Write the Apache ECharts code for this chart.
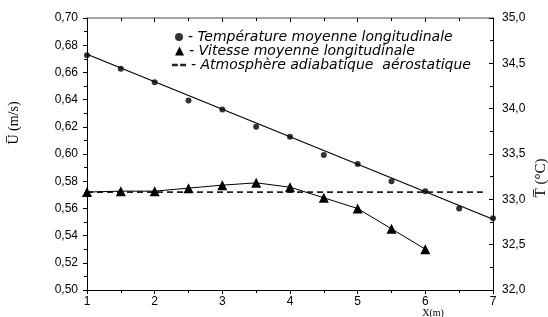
<!DOCTYPE html>
<html>
<head>
<meta charset="utf-8">
<script src="https://cdn.jsdelivr.net/npm/echarts@6/dist/echarts.min.js"></script>
<style>
html, body { margin: 0; padding: 0; background: #fff; }
#chart { width: 548px; height: 317px; }
</style>
</head>
<body>
<div id="chart"></div>
<script>
// positions le long du tunnel X (m)
var xPos = [1, 1.5, 2, 2.5, 3, 3.5, 4, 4.5, 5, 5.5, 6, 6.5, 7];
// temperature moyenne (axe droit, °C)
var tempVals = [34.59, 34.44, 34.29, 34.09, 33.99, 33.80, 33.69, 33.49, 33.39, 33.20, 33.09, 32.90, 32.79];
// droite de regression temperature
var tempFitX = [1, 7];
var tempFitY = [34.60, 32.78];
// vitesse moyenne (axe gauche, m/s)
var vitX = [1, 1.5, 2, 2.5, 3, 3.5, 4, 4.5, 5, 5.5, 6];
var vitVals = [0.572, 0.5727, 0.5727, 0.5749, 0.5771, 0.5788, 0.5756, 0.5678, 0.5599, 0.545, 0.530];
// atmosphere adiabatique
var adiaX = [1, 6.85];
var adiaY = [0.572, 0.572];

var legendNames = ['Température moyenne longitudinale', 'Vitesse moyenne longitudinale', 'Atmosphère adiabatique  aérostatique'];

function pairs(xs, ys) {
    var out = [];
    for (var i = 0; i < xs.length; i++) {
        out.push([xs[i], ys[i]]);
    }
    return out;
}

function virgule(v, d) {
    return v.toFixed(d).replace('.', ',');
}

var chart = echarts.init(document.getElementById('chart'));

var legendText = {
    fontFamily: 'DejaVu Sans',
    fontStyle: 'italic',
    fontSize: 14,
    color: '#000'
};

chart.setOption({
    animation: false,
    grid: {
        left: 87,
        right: 55,
        top: 18,
        bottom: 27
    },
    legend: [
        {
            left: 175, top: 30, padding: 0, itemWidth: 8, itemHeight: 8, itemGap: 2,
            data: [{ name: legendNames[0], icon: 'circle' }],
            formatter: '- {name}', textStyle: legendText, selectedMode: false
        },
        {
            left: 175, top: 44, padding: 0, itemWidth: 9, itemHeight: 9, itemGap: 2,
            data: [{ name: legendNames[1], icon: 'triangle' }],
            formatter: '- {name}', textStyle: legendText, selectedMode: false
        },
        {
            left: 172, top: 58, padding: 0, itemWidth: 14, itemHeight: 3, itemGap: 2,
            data: [{ name: legendNames[2], icon: 'path://M0,0h5v2h-5z M7,0h5v2h-5z' }],
            formatter: '- {name}', textStyle: legendText, selectedMode: false
        }
    ],
    xAxis: [
        {
            type: 'value',
            min: 1, max: 7, interval: 1,
            axisLine: { lineStyle: { color: '#000', width: 1 } },
            axisTick: { inside: false, length: 4, lineStyle: { color: '#000' } },
            minorTick: { show: true, splitNumber: 2, length: 3, lineStyle: { color: '#000' } },
            splitLine: { show: false },
            axisLabel: { color: '#000', fontFamily: 'Liberation Sans', fontSize: 12, margin: 6 }
        },
        {
            type: 'value',
            position: 'top',
            min: 1, max: 7, interval: 1,
            axisLine: { lineStyle: { color: '#888', width: 1.5 } },
            axisTick: { inside: true, length: 4, lineStyle: { color: '#000' } },
            minorTick: { show: true, splitNumber: 2, length: 3, lineStyle: { color: '#000' } },
            splitLine: { show: false },
            axisLabel: { show: false }
        }
    ],
    yAxis: [
        {
            type: 'value',
            min: 0.5, max: 0.7, interval: 0.02,
            axisLine: { show: true, lineStyle: { color: '#000', width: 1 } },
            axisTick: { show: true, length: 4, lineStyle: { color: '#000' } },
            minorTick: { show: true, splitNumber: 2, length: 3, lineStyle: { color: '#000' } },
            splitLine: { show: false },
            axisLabel: {
                color: '#000', fontFamily: 'Liberation Sans', fontSize: 12, margin: 9,
                formatter: function (v) { return virgule(v, 2); }
            }
        },
        {
            type: 'value',
            position: 'right',
            min: 32, max: 35, interval: 0.5,
            axisLine: { show: true, lineStyle: { color: '#000', width: 1 } },
            axisTick: { show: true, inside: true, length: 4, lineStyle: { color: '#000' } },
            minorTick: { show: true, splitNumber: 2, length: 3, lineStyle: { color: '#000' } },
            splitLine: { show: false },
            axisLabel: {
                color: '#000', fontFamily: 'Liberation Sans', fontSize: 12, margin: 9,
                formatter: function (v) { return virgule(v, 1); }
            }
        }
    ],
    series: [
        {
            name: 'fit',
            type: 'line',
            yAxisIndex: 1,
            data: pairs(tempFitX, tempFitY),
            showSymbol: false,
            lineStyle: { color: '#000', width: 1.2 },
            z: 2
        },
        {
            name: legendNames[0],
            type: 'scatter',
            yAxisIndex: 1,
            data: pairs(xPos, tempVals),
            symbol: 'circle',
            symbolSize: 6,
            itemStyle: { color: '#000' },
            z: 3
        },
        {
            name: legendNames[1],
            type: 'line',
            yAxisIndex: 0,
            data: pairs(vitX, vitVals),
            symbol: 'triangle',
            symbolSize: 10,
            lineStyle: { color: '#000', width: 1 },
            itemStyle: { color: '#000' },
            z: 3
        },
        {
            name: legendNames[2],
            type: 'line',
            yAxisIndex: 0,
            data: pairs(adiaX, adiaY),
            showSymbol: false,
            lineStyle: { color: '#222', width: 1.8, type: [6, 4] },
            itemStyle: { color: '#222' },
            z: 2
        }
    ],
    graphic: [
        {
            type: 'text',
            x: 14, y: 123,
            rotation: Math.PI / 2,
            style: {
                text: 'U\u0305 (m/s)',
                fontFamily: 'Liberation Serif', fontSize: 14, fill: '#000',
                textAlign: 'center', textVerticalAlign: 'middle'
            }
        },
        {
            type: 'text',
            x: 541, y: 178,
            rotation: Math.PI / 2,
            style: {
                text: 'T\u0305 (°C)',
                fontFamily: 'Liberation Serif', fontSize: 15, fill: '#000',
                textAlign: 'center', textVerticalAlign: 'middle'
            }
        },
        {
            type: 'text',
            x: 433, y: 308,
            style: {
                text: 'X(m)',
                fontFamily: 'Liberation Serif', fontSize: 10, fill: '#000',
                textAlign: 'center', textVerticalAlign: 'top'
            }
        }
    ]
});
</script>
</body>
</html>
